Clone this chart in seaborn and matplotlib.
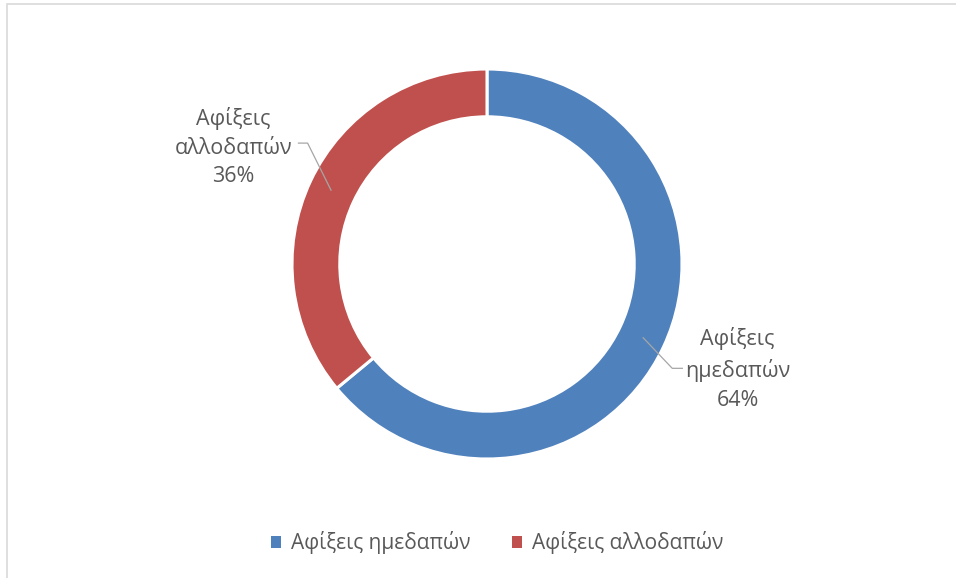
import numpy as np
import matplotlib
matplotlib.use("Agg")
import matplotlib.pyplot as plt
from matplotlib.patches import Patch, Rectangle
import seaborn as sns

# Arrivals share
categories = ["Αφίξεις ημεδαπών", "Αφίξεις αλλοδαπών"]
shares = [64, 36]
label_lines = [["Αφίξεις", "ημεδαπών"], ["Αφίξεις", "αλλοδαπών"]]
colors = ["#4F81BD", "#C0504D"]

sns.set_theme(style="white")
plt.rcParams["font.family"] = ["Open Sans", "DejaVu Sans"]
text_color = "#595959"

W, H = 956, 578
fig = plt.figure(figsize=(W / 100, H / 100), dpi=100)
fig.patch.set_facecolor("white")

# axes spanning the whole figure; 1 data unit = R pixels
cx, cy, R = 487, 264, 195
ax = fig.add_axes([0, 0, 1, 1])

ring = 0.245
wedges, _ = ax.pie(
    shares, colors=colors, startangle=90, counterclock=False, radius=1.0,
    wedgeprops=dict(width=ring, edgecolor="white", linewidth=2.2),
)
ax.set_aspect("auto")
ax.set_xlim(-cx / R, (W - cx) / R)
ax.set_ylim(-(H - cy) / R, cy / R)
ax.axis("off")

# data labels with leader lines
label_pos = [(1.285, -0.54), (-1.30, 0.60)]
for w, lines, val, (tx, ty) in zip(wedges, label_lines, shares, label_pos):
    mid = np.deg2rad((w.theta1 + w.theta2) / 2)
    r = 1 - ring / 2 + 0.005
    ax_, ay_ = r * np.cos(mid), r * np.sin(mid)
    if tx > 0:
        elbow = (tx - 0.335, ty + 0.005)
        end = (tx - 0.28, ty + 0.005)
    else:
        elbow = (tx + 0.38, ty + 0.02)
        end = (tx + 0.33, ty + 0.02)
    ax.plot([ax_, elbow[0], end[0]], [ay_, elbow[1], end[1]],
            color="#A6A6A6", lw=0.9, solid_capstyle="butt")
    txt = "\n".join(lines + [f"{val}%"])
    ax.text(tx, ty, txt, ha="center", va="center", fontsize=15.5,
            color=text_color, linespacing=1.5)

handles = [Patch(facecolor=c, edgecolor="none") for c in colors]
fig.legend(handles, categories, loc="center", ncol=2,
           bbox_to_anchor=(497 / W, 1 - 543 / H), frameon=False,
           fontsize=15, labelcolor=text_color, handlelength=0.5,
           handleheight=0.5, handletextpad=0.45, columnspacing=2.0)

# chart-area frame
fig.add_artist(Rectangle((7 / W, -0.1), 1.2, 1 - 4.5 / H + 0.1,
                         transform=fig.transFigure, fill=False,
                         edgecolor="#D9D9D9", lw=1.2))

fig.savefig("out.png", dpi=100, facecolor="white")
